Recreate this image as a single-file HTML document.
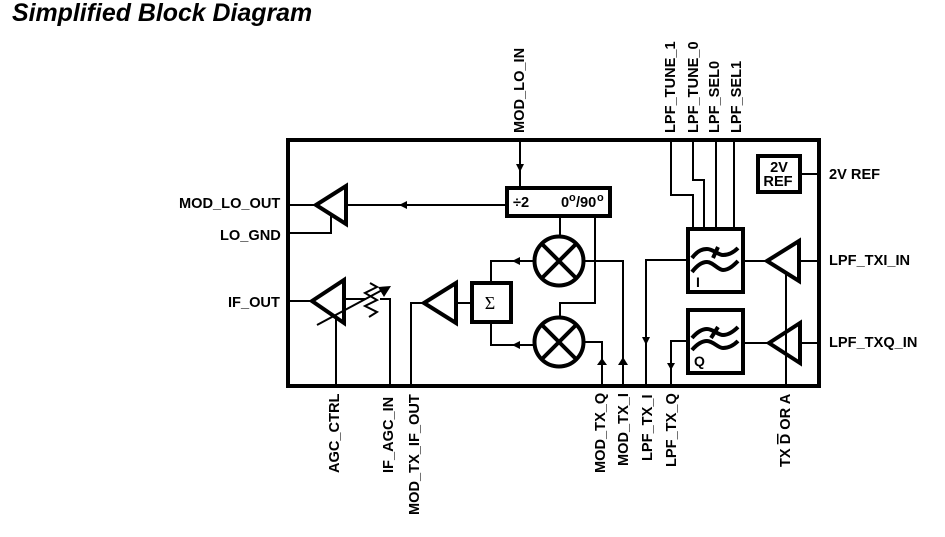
<!DOCTYPE html>
<html><head><meta charset="utf-8"><style>
html,body{margin:0;padding:0;background:#fff;width:945px;height:537px;overflow:hidden}
svg{display:block}
text{font-family:"Liberation Sans",sans-serif;font-weight:bold;fill:#000}
.l{font-size:14.6px}
.v{font-size:14.6px;text-anchor:start}
</style></head><body>
<svg width="945" height="537" viewBox="0 0 945 537">
<text x="12" y="21" style="font-size:24.9px;font-style:italic">Simplified Block Diagram</text>
<g fill="none" stroke="#000" stroke-width="2">
<path d="M520 140V187M506 205H346M287 205H314M287 233H331V216M287 301H310M345 299H366M380 299H390V386M336 316V386M411 386V303H424M457 303H471"/>
<path d="M560 217V236M595 217V303H560V317M584 261H623V386M491 282V261H534M491 323V345H534M584 342H602V386"/>
<path d="M671 140V195H693V229M693 140V180H704V229M716 140V229M734 140V229"/>
<path d="M687 260H646V386M687 341H671V386M744 261H767M744 343H769M799 261H818M800 343H818M786 272V386M801 174H818"/>
</g>
<rect x="288" y="140" width="531" height="246" fill="none" stroke="#000" stroke-width="4"/>
<g fill="#fff" stroke="#000" stroke-width="4" stroke-linejoin="miter">
<path d="M316 205L346 186V224Z" fill="none"/>
<path d="M312 301L344 280V323Z" fill="none"/>
<path d="M424 303L456 283V323Z" fill="none"/>
<path d="M767 261L799 241V281Z" fill="none"/>
<path d="M769 343L800 323V363Z" fill="none"/>
<rect x="507" y="188" width="103" height="28"/>
<rect x="472" y="283" width="39" height="39"/>
<rect x="688" y="229" width="55" height="63"/>
<rect x="688" y="310" width="55" height="63"/>
<rect x="758" y="156" width="42" height="36"/>
<circle cx="559" cy="261" r="24.5"/>
<circle cx="559" cy="342" r="24.5"/>
</g>
<g fill="none" stroke="#000" stroke-width="4">
<path d="M542 244L576 278M576 244L542 278M542 325L576 359M576 325L542 359"/>
<path d="M692 258C698 250 703 249 707 249C713 249 718 255 723 255C729 255 734 252 738 248M692 272C698 264 703 262 707 262C713 262 718 270 723 270C729 270 734 265 738 261"/>
<path d="M692 338C698 331 703 329 707 329C713 329 718 335 723 335C729 335 734 331 738 327M692 350C698 343 703 341 707 341C713 341 718 348 723 348C729 348 734 345 738 341"/>
<path d="M713 258L718 247M711 338L718 327" stroke-width="4"/>
</g>
<g fill="none" stroke="#000" stroke-width="2">
<path d="M317 325L384 289" />
<path d="M370 283L377 287L365 293L377 300L365 306L377 312L369 317"/>
</g>
<g fill="#000">
<path d="M391 286L378 287L384 297Z"/>
<path d="M516 164H524L520 172Z"/>
<path d="M399 205L407 201V209Z"/>
<path d="M512 261L520 257V265Z"/>
<path d="M512 345L520 341V349Z"/>
<path d="M597 365H607L602 358Z"/>
<path d="M618 365H628L623 357Z"/>
<path d="M642 337H650L646 345Z"/>
<path d="M667 363H675L671 370Z"/>
</g>
<text class="l" x="513" y="207">÷2</text>
<text class="l" x="561" y="207">0</text>
<text x="569" y="201" style="font-size:11px">o</text>
<text class="l" x="576" y="207">/90</text>
<text x="597" y="201" style="font-size:11px">o</text>
<text x="490" y="309" text-anchor="middle" style="font-family:'Liberation Serif',serif;font-size:18px;font-weight:normal">Σ</text>
<text class="l" x="779" y="172" text-anchor="middle">2V</text>
<text class="l" x="778" y="186" text-anchor="middle">REF</text>
<text x="696" y="287" style="font-size:14px">I</text>
<text x="694" y="366" style="font-size:14px">Q</text>
<text class="l" x="179" y="208">MOD_LO_OUT</text>
<text class="l" x="220" y="240">LO_GND</text>
<text class="l" x="228" y="307">IF_OUT</text>
<text class="l" x="829" y="179">2V REF</text>
<text class="l" x="829" y="265">LPF_TXI_IN</text>
<text class="l" x="829" y="347">LPF_TXQ_IN</text>
<text class="v" transform="translate(524,133) rotate(-90)">MOD_LO_IN</text>
<text class="v" transform="translate(675,133) rotate(-90)">LPF_TUNE_1</text>
<text class="v" transform="translate(698,133) rotate(-90)">LPF_TUNE_0</text>
<text class="v" transform="translate(719,133) rotate(-90)">LPF_SEL0</text>
<text class="v" transform="translate(741,133) rotate(-90)">LPF_SEL1</text>
<text class="v" transform="translate(339,473) rotate(-90)">AGC_CTRL</text>
<text class="v" transform="translate(393,473) rotate(-90)">IF_AGC_IN</text>
<text class="v" transform="translate(419,515) rotate(-90)">MOD_TX_IF_OUT</text>
<text class="v" transform="translate(605,473) rotate(-90)">MOD_TX_Q</text>
<text class="v" transform="translate(628,466) rotate(-90)">MOD_TX_I</text>
<text class="v" transform="translate(652,461) rotate(-90)">LPF_TX_I</text>
<text class="v" transform="translate(676,467) rotate(-90)">LPF_TX_Q</text>
<text class="v" transform="translate(790,467) rotate(-90)">TX <tspan text-decoration="overline">D</tspan> OR A</text>
</svg>
</body></html>
